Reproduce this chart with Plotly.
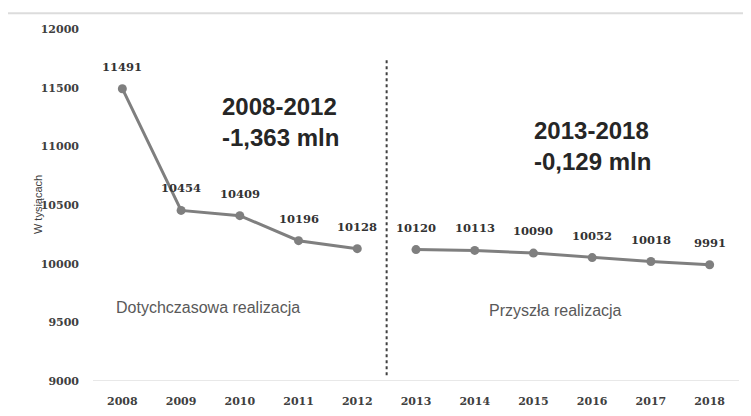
import plotly.graph_objects as go

years_past = ["2008", "2009", "2010", "2011", "2012"]
values_past = [11491, 10454, 10409, 10196, 10128]
years_future = ["2013", "2014", "2015", "2016", "2017", "2018"]
values_future = [10120, 10113, 10090, 10052, 10018, 9991]
all_years = years_past + years_future
y_ticks = [9000, 9500, 10000, 10500, 11000, 11500, 12000]
y_tick_labels = [str(v) for v in y_ticks]

line_color = "#7f7f7f"
serif = "DejaVu Serif"
sans = "Liberation Sans"

fig = go.Figure()
for xs, ys in [(years_past, values_past), (years_future, values_future)]:
    fig.add_trace(go.Scatter(
        x=xs, y=ys, mode="lines+markers",
        line=dict(color=line_color, width=3),
        marker=dict(color=line_color, size=9),
        showlegend=False, cliponaxis=False,
    ))
    for x, y in zip(xs, ys):
        fig.add_annotation(x=all_years.index(x), y=y, xref="x", yref="y",
                           text=str(y), showarrow=False, yshift=22,
                           font=dict(family=serif, size=11.5, color="#333333", weight="bold"))

fig.update_layout(
    width=751, height=416,
    margin=dict(l=85, r=20, t=21, b=43, autoexpand=False),
    paper_bgcolor="white", plot_bgcolor="white",
    xaxis=dict(
        type="category", categoryorder="array", categoryarray=all_years,
        range=[-0.5, 10.5], showgrid=False, zeroline=False, automargin=False,
        showline=False, ticks="", ticklabelstandoff=12,
        tickfont=dict(family=serif, size=11, color="#404040", weight="bold"),
    ),
    yaxis=dict(
        range=[9000, 12000], tickvals=y_ticks, ticktext=y_tick_labels, automargin=False,
        showgrid=False, zeroline=False, showline=False, ticks="", ticklabelstandoff=13,
        tickfont=dict(family=serif, size=11, color="#404040", weight="bold"),
    ),
)

# y-axis title
fig.add_annotation(xref="paper", yref="paper", x=-0.085, y=0.5, xanchor="center", yanchor="middle",
                   text="W tysiącach", textangle=-90, showarrow=False,
                   font=dict(family=sans, size=11, color="#404040"))
# baseline at 9000
fig.add_shape(type="line", xref="paper", yref="y", x0=0, x1=1, y0=9000, y1=9000,
              line=dict(color="#e0e0e0", width=1.5))
# top border line
fig.add_shape(type="line", xref="paper", yref="paper", x0=-0.14, x1=1.03, y0=1.045, y1=1.045,
              line=dict(color="#dcdcdc", width=2))
# dotted divider between 2012 and 2013
fig.add_shape(type="line", xref="x", yref="y", x0=4.5, x1=4.5, y0=9050, y1=11740,
              line=dict(color="#404040", width=2, dash="dot"))

fig.add_annotation(xref="paper", yref="paper", x=0.196, y=0.736, xanchor="left", yanchor="middle",
                   text="2008-2012<br>-1,363 mln", showarrow=False, align="left",
                   font=dict(family=sans, size=24, color="#262626", weight="bold"))
fig.add_annotation(xref="paper", yref="paper", x=0.680, y=0.668, xanchor="left", yanchor="middle",
                   text="2013-2018<br>-0,129 mln", showarrow=False, align="left",
                   font=dict(family=sans, size=24, color="#262626", weight="bold"))
fig.add_annotation(xref="paper", yref="paper", x=0.178, y=0.21, xanchor="center", yanchor="middle",
                   text="Dotychczasowa realizacja", showarrow=False,
                   font=dict(family=sans, size=16, color="#595959"))
fig.add_annotation(xref="paper", yref="paper", x=0.716, y=0.20, xanchor="center", yanchor="middle",
                   text="Przyszła realizacja", showarrow=False,
                   font=dict(family=sans, size=16, color="#595959"))

fig.write_html("out.html")
